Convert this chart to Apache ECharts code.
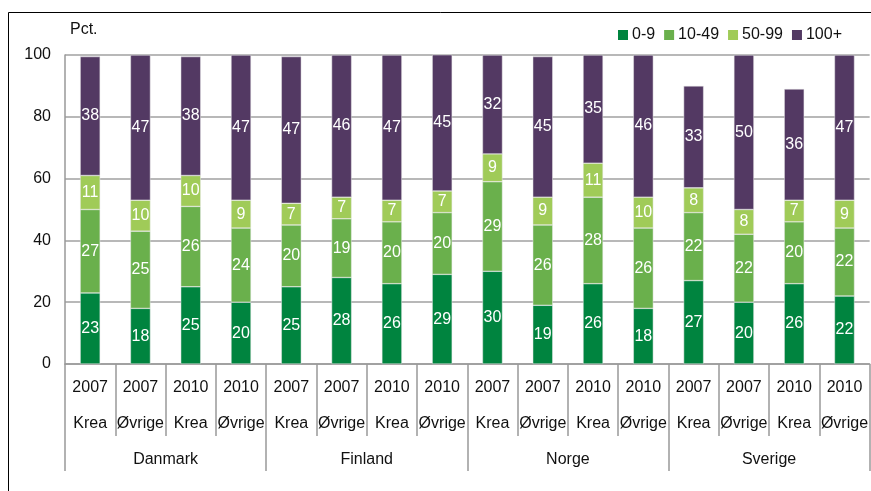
<!DOCTYPE html>
<html>
<head>
<meta charset="utf-8">
<script src="https://cdn.jsdelivr.net/npm/echarts@6/dist/echarts.min.js"></script>
<style>
  html, body { margin: 0; padding: 0; background: #fff; }
  #chart { width: 871px; height: 491px; }
</style>
</head>
<body>
<div id="chart"></div>
<script>
var chartDom = document.getElementById('chart');
var myChart = echarts.init(chartDom);

// kategorier (år + type) og land
var years = ['2007', '2007', '2010', '2010', '2007', '2007', '2010', '2010',
             '2007', '2007', '2010', '2010', '2007', '2007', '2010', '2010'];
var types = ['Krea', 'Øvrige', 'Krea', 'Øvrige', 'Krea', 'Øvrige', 'Krea', 'Øvrige',
             'Krea', 'Øvrige', 'Krea', 'Øvrige', 'Krea', 'Øvrige', 'Krea', 'Øvrige'];
var countries = ['Danmark', 'Finland', 'Norge', 'Sverige'];

// andel (pct.) per størrelsesgruppe, avrundes i etikettene
var s0_9 =    [23, 18, 25, 20, 25, 28, 26, 29, 30, 19, 26, 18, 27, 20, 26, 22];
var s10_49 =  [27, 25, 26, 24, 20, 19, 20, 20, 29, 26, 28, 26, 22, 22, 20, 22];
var s50_99 =  [11, 10, 10, 9, 7, 7, 7, 7, 9, 9, 11, 10, 8, 8, 7, 9];
var s100 =    [38.49, 47, 38.49, 47, 47.49, 46, 47, 45, 32, 45.49, 35, 46, 33, 50, 36, 47];

var yTicks = [0, 20, 40, 60, 80, 100];

var seriesNames = ['0-9', '10-49', '50-99', '100+'];
var seriesData = [s0_9, s10_49, s50_99, s100];
var colors = ['#00843f', '#6ab04c', '#a0cb58', '#533963'];

var cats = years.map(function (y, i) { return y + '\n' + types[i]; });

var txt = { fontFamily: 'Liberation Sans, Arial, sans-serif', fontSize: 16, color: '#111' };

var series = seriesData.map(function (d, i) {
  return {
    name: seriesNames[i],
    type: 'bar',
    stack: 'total',
    barWidth: 20,
    xAxisIndex: 0,
    data: d,
    itemStyle: { color: colors[i], borderColor: '#e8e8e8', borderWidth: 0.5 },
    label: {
      show: true,
      position: 'inside',
      color: '#fff',
      fontFamily: txt.fontFamily,
      fontSize: 16,
      formatter: function (p) { return Math.round(p.value); }
    }
  };
});

var option = {
  animation: false,
  backgroundColor: '#fff',
  textStyle: txt,
  graphic: [
    { type: 'rect', shape: { x: 8.5, y: 12.5, width: 900, height: 600 },
      style: { fill: 'none', stroke: '#000', lineWidth: 1 }, silent: true },
    { type: 'text', left: 70, top: 22,
      style: { text: 'Pct.', font: '16px Liberation Sans', fill: '#111' } }
  ],
  legend: {
    right: 24,
    top: 22,
    itemWidth: 10,
    itemHeight: 10,
    itemGap: 9,
    icon: 'rect',
    data: seriesNames,
    itemStyle: { borderWidth: 0 },
    textStyle: { fontFamily: txt.fontFamily, fontSize: 16, color: '#111', padding: [0, 0, 0, -1] }
  },
  grid: { left: 65, right: 0, top: 55, bottom: 127, containLabel: false },
  xAxis: [
    {
      type: 'category',
      data: cats,
      position: 'bottom',
      axisLine: { show: true, lineStyle: { color: '#999', width: 1.5 } },
      axisTick: { show: true, length: 72, lineStyle: { color: '#999', width: 1.5 } },
      axisLabel: {
        interval: 0,
        margin: 6,
        lineHeight: 36,
        fontFamily: txt.fontFamily,
        fontSize: 16,
        color: '#111'
      },
      splitLine: { show: false }
    },
    {
      type: 'category',
      data: countries,
      position: 'bottom',
      axisLine: { show: false },
      axisTick: { show: true, length: 107, lineStyle: { color: '#999', width: 1.5 } },
      axisLabel: {
        interval: 0,
        margin: 88,
        fontFamily: txt.fontFamily,
        fontSize: 16,
        color: '#111'
      },
      splitLine: { show: false }
    }
  ],
  yAxis: {
    type: 'value',
    min: yTicks[0],
    max: yTicks[yTicks.length - 1],
    interval: 20,
    axisLine: { show: true, lineStyle: { color: '#999', width: 1.5 } },
    axisTick: { show: false },
    axisLabel: { margin: 14, fontFamily: txt.fontFamily, fontSize: 16, color: '#111' },
    splitLine: { show: true, lineStyle: { color: '#a0a0a0', width: 1.5 } }
  },
  series: series
};
myChart.setOption(option);
</script>
</body>
</html>
